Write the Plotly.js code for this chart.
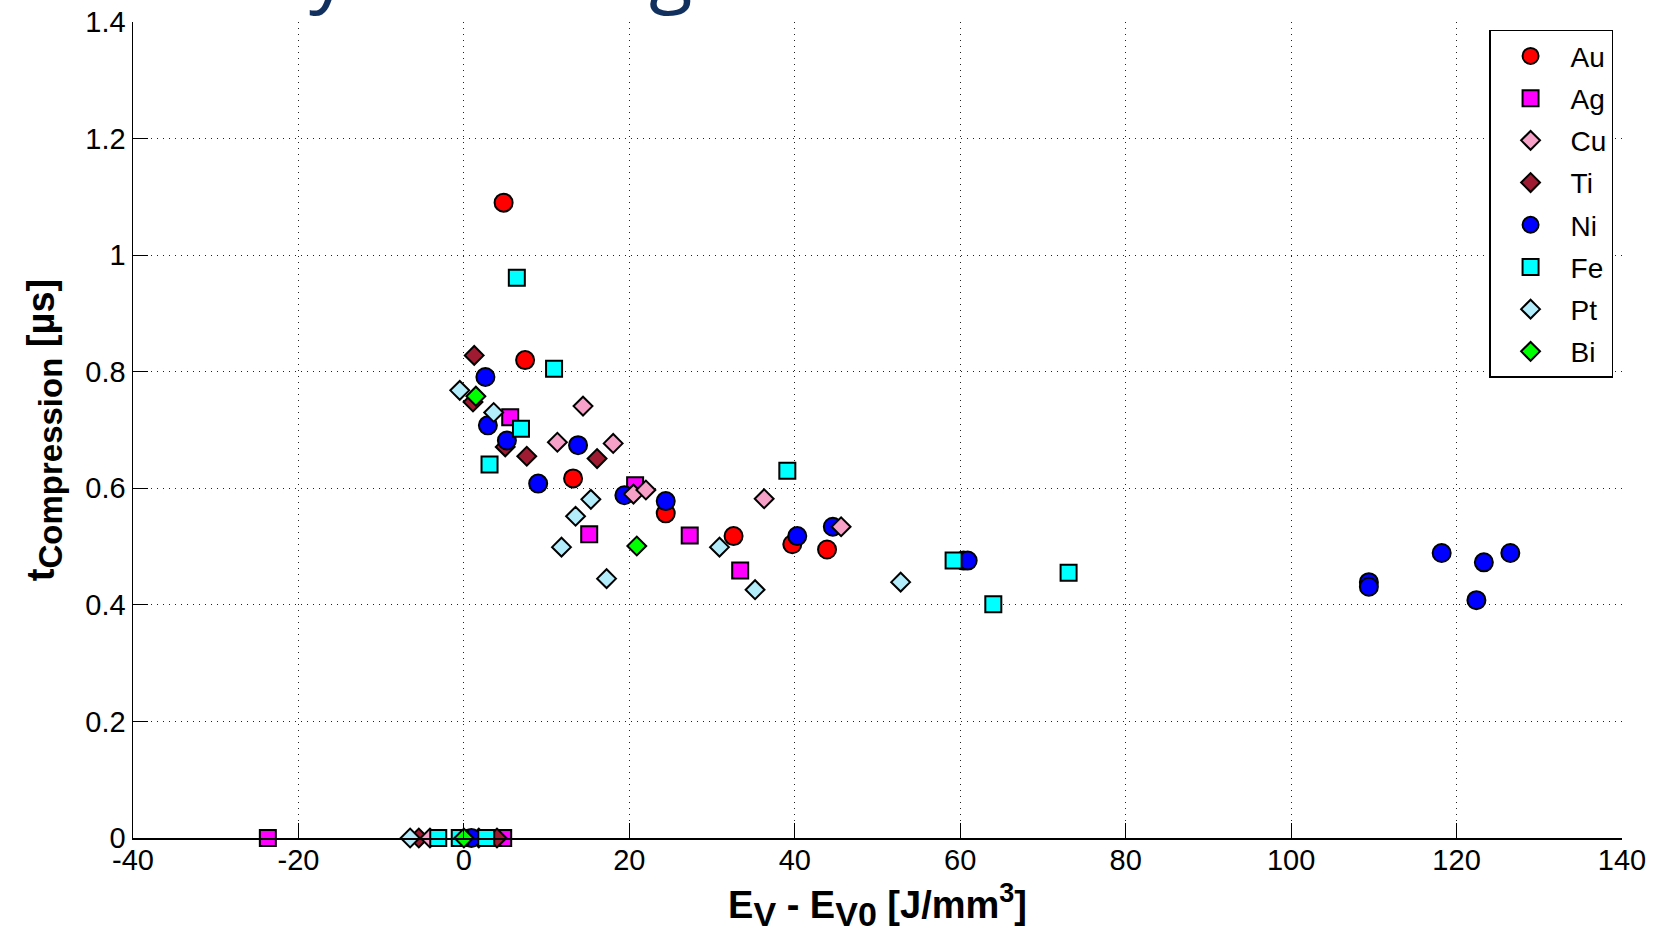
<!DOCTYPE html>
<html>
<head>
<meta charset="utf-8">
<script src="https://cdn.plot.ly/plotly-3.0.1.min.js"></script>
<style>html,body{margin:0;padding:0;background:#fff;}#chart{width:1662px;height:949px;}</style>
</head>
<body>
<div id="chart"></div>
<script>
// ---- Data ----
const materials = ['Au', 'Ag', 'Cu', 'Ti', 'Ni', 'Fe', 'Pt', 'Bi'];

const auX = [4.8, 7.4, 13.2, 24.4, 32.6, 39.7, 43.9];
const auY = [1.09, 0.82, 0.617, 0.557, 0.518, 0.504, 0.495];

const agX = [-23.7, 4.75, 5.6, 15.15, 20.7, 27.3, 33.4];
const agY = [0, 0, 0.722, 0.521, 0.605, 0.519, 0.459];

const cuX = [-4.1, 11.3, 14.4, 18.05, 20.5, 22.0, 36.3, 45.6];
const cuY = [0, 0.679, 0.741, 0.677, 0.590, 0.597, 0.582, 0.534];

const tiX = [-5.45, 1.8, 4.0, 1.25, 1.1, 5.0, 7.6, 16.1];
const tiY = [0, 0, 0, 0.828, 0.748, 0.671, 0.655, 0.651];

const niX = [0.9, 2.6, 2.9, 5.2, 8.98, 13.8, 19.4, 24.4, 40.3, 44.6, 60.4, 60.9, 109.4, 109.4, 118.2, 122.4, 123.3, 126.5];
const niY = [0, 0.791, 0.708, 0.682, 0.608, 0.674, 0.588, 0.578, 0.518, 0.534, 0.476, 0.476, 0.439, 0.431, 0.489, 0.408, 0.473, 0.489];

const feX = [-3.1, -0.5, 2.7, 3.1, 6.4, 6.9, 10.9, 39.1, 59.2, 64.0, 73.1];
const feY = [0, 0, 0, 0.641, 0.961, 0.702, 0.805, 0.630, 0.476, 0.401, 0.455];

const ptX = [-6.5, -0.5, 3.6, 11.8, 13.5, 15.35, 17.25, 30.9, 35.2, 52.8];
const ptY = [0, 0.768, 0.730, 0.499, 0.552, 0.581, 0.445, 0.499, 0.426, 0.439];

const biX = [0, 1.45, 20.9];
const biY = [0, 0.758, 0.501];

const xTickVals = [-40, -20, 0, 20, 40, 60, 80, 100, 120, 140];
const xTickText = ['-40', '-20', '0', '20', '40', '60', '80', '100', '120', '140'];
const yTickVals = [0, 0.2, 0.4, 0.6, 0.8, 1.0, 1.2, 1.4];
const yTickText = ['0', '0.2', '0.4', '0.6', '0.8', '1', '1.2', '1.4'];

// ---- Styles ----
const FONT = 'Liberation Sans, Arial, Helvetica, sans-serif';
const style = {
  Au: {symbol: 'circle', color: '#ff0000', size: 18},
  Ag: {symbol: 'square', color: '#ff00ff', size: 16},
  Cu: {symbol: 'diamond', color: '#f7a1c8', size: 14.5},
  Ti: {symbol: 'diamond', color: '#9e1b32', size: 14.5},
  Ni: {symbol: 'circle', color: '#0000ff', size: 18},
  Fe: {symbol: 'square', color: '#00ffff', size: 16},
  Pt: {symbol: 'diamond', color: '#b3ecfb', size: 14.5},
  Bi: {symbol: 'diamond', color: '#00ff00', size: 14.5}
};
const series = {
  Au: [auX, auY], Ag: [agX, agY], Cu: [cuX, cuY], Ti: [tiX, tiY],
  Ni: [niX, niY], Fe: [feX, feY], Pt: [ptX, ptY], Bi: [biX, biY]
};
// drawing order (later on top); legend order comes from legendrank
const drawOrder = ['Au', 'Ag', 'Ti', 'Ni', 'Cu', 'Fe', 'Pt', 'Bi'];

const traces = drawOrder.map(function (name) {
  const s = style[name];
  return {
    type: 'scatter',
    mode: 'markers',
    name: name,
    legendgroup: name,
    legendrank: materials.indexOf(name) + 1,
    x: series[name][0],
    y: series[name][1],
    cliponaxis: false,
    marker: {symbol: s.symbol, color: s.color, size: s.size, line: {color: '#000000', width: 2}}
  };
});

const layout = {
  width: 1662,
  height: 949,
  margin: {l: 133, r: 40, t: 22, b: 111, pad: 0},
  paper_bgcolor: '#ffffff',
  plot_bgcolor: '#ffffff',
  font: {family: FONT, color: '#000000'},
  showlegend: true,
  legend: {
    x: 0.994, y: 0.9905, xanchor: 'right', yanchor: 'top',
    bgcolor: '#ffffff', bordercolor: '#000000', borderwidth: 1.5,
    font: {family: FONT, size: 28, color: '#000000'},
    traceorder: 'grouped', tracegroupgap: 2.8,
    itemwidth: 70
  },
  xaxis: {
    range: [-40, 140],
    tickmode: 'array', tickvals: xTickVals, ticktext: xTickText,
    ticks: 'inside', ticklen: 15, tickwidth: 1, tickcolor: '#000000',
    showline: true, linecolor: '#000000', linewidth: 1.5,
    showgrid: true, gridcolor: '#222222', gridwidth: 1, griddash: '1px,5px',
    zeroline: false, mirror: false,
    tickfont: {family: FONT, size: 29, color: '#000000'},
    ticklabelstandoff: -4,
    automargin: 'bottom',
    title: {
      text: 'E<sub><span style="font-size:34px">V</span></sub> - E<sub><span style="font-size:34px">V0</span></sub> [J/mm<sup><span style="font-size:27px">3</span></sup>]',
      font: {family: FONT, size: 38, color: '#000000', weight: 700},
      standoff: 16
    }
  },
  yaxis: {
    range: [0, 1.4],
    tickmode: 'array', tickvals: yTickVals, ticktext: yTickText,
    ticks: 'inside', ticklen: 15, tickwidth: 1, tickcolor: '#000000',
    showline: true, linecolor: '#000000', linewidth: 1.5,
    showgrid: true, gridcolor: '#222222', gridwidth: 1, griddash: '1px,5px',
    zeroline: false, mirror: false,
    tickfont: {family: FONT, size: 29, color: '#000000'},
    automargin: 'left',
    title: {
      text: 't<sub><span style="font-size:33px">Compression</span></sub> [µs]',
      font: {family: FONT, size: 38, color: '#000000', weight: 700},
      standoff: 19
    }
  },
  annotations: [
    {text: 'y', xref: 'paper', yref: 'paper', x: 0.132, y: 0.9995, xanchor: 'center', yanchor: 'bottom',
     showarrow: false, font: {family: 'Open Sans, sans-serif', size: 80, color: '#12305e'}},
    {text: 'g', xref: 'paper', yref: 'paper', x: 0.361, y: 0.9995, xanchor: 'center', yanchor: 'bottom',
     showarrow: false, font: {family: 'Open Sans, sans-serif', size: 80, color: '#12305e'}}
  ]
};

Plotly.newPlot('chart', traces, layout, {displayModeBar: false, staticPlot: true});
</script>
</body>
</html>
